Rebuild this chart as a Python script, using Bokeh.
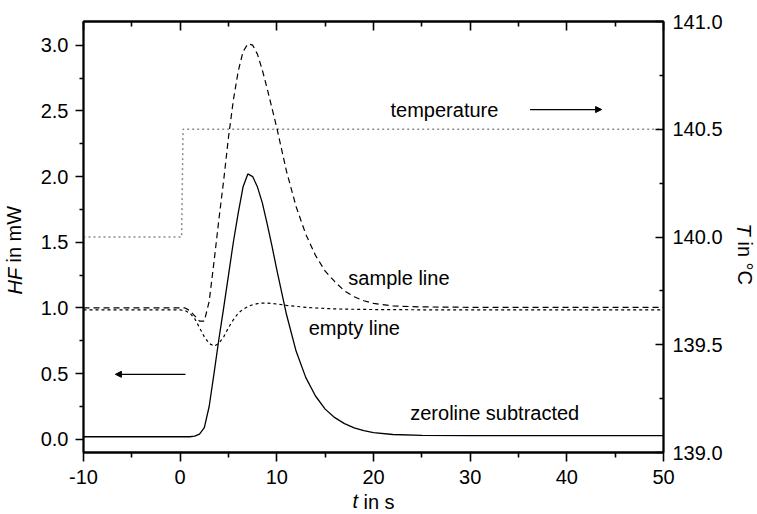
from bokeh.plotting import figure
from bokeh.models import (Range1d, LinearAxis, FixedTicker, NumeralTickFormatter,
                          Label, Arrow, NormalHead, Title)
from bokeh.embed import file_html
from bokeh.resources import INLINE

# ---- data ----
t = [-10, -5, 0, 0.5, 1, 1.5, 2, 2.5, 3, 3.5, 4, 4.5, 5, 5.5, 6, 6.5, 7, 7.5, 8, 8.5,
     9, 9.5, 10, 11, 12, 13, 14, 15, 16, 17, 18, 19, 20, 22, 25, 30, 40, 50]
hf_zero = [0.02, 0.02, 0.02, 0.02, 0.02, 0.025, 0.04, 0.09, 0.25, 0.5, 0.76, 1.0, 1.25,
           1.5, 1.72, 1.92, 2.02, 2.0, 1.92, 1.8, 1.64, 1.47, 1.29, 0.95, 0.67, 0.47,
           0.33, 0.23, 0.165, 0.12, 0.088, 0.066, 0.052, 0.037, 0.03, 0.028, 0.028, 0.028]
hf_sample = [1.0, 1.0, 1.0, 1.0, 0.98, 0.94, 0.9, 0.9, 1.05, 1.35, 1.67, 1.97, 2.3,
             2.58, 2.8, 2.95, 3.01, 3.0, 2.93, 2.81, 2.67, 2.52, 2.37, 2.04, 1.77, 1.56,
             1.4, 1.28, 1.2, 1.13, 1.085, 1.055, 1.035, 1.015, 1.008, 1.005, 1.005, 1.005]
hf_empty = [0.985, 0.985, 0.985, 0.98, 0.96, 0.92, 0.85, 0.78, 0.73, 0.71, 0.73, 0.78,
            0.85, 0.91, 0.96, 0.99, 1.01, 1.025, 1.033, 1.037, 1.037, 1.034, 1.03, 1.02,
            1.012, 1.005, 1.0, 0.996, 0.993, 0.991, 0.99, 0.989, 0.988, 0.987, 0.986,
            0.985, 0.985, 0.985]
t_temp = [-10, 0.15, 0.3, 50]
temp = [140.0, 140.0, 140.5, 140.5]

x_ticks = [-10, 0, 10, 20, 30, 40, 50]
x_minor = [-5, 5, 15, 25, 35, 45]
hf_ticks = [0.0, 0.5, 1.0, 1.5, 2.0, 2.5, 3.0]
hf_minor = [0.25, 0.75, 1.25, 1.75, 2.25, 2.75]
t_ticks = [139.0, 139.5, 140.0, 140.5, 141.0]
t_minor = [139.25, 139.75, 140.25, 140.75]

FONT = "Liberation Sans"
FS = "20px"

p = figure(frame_width=580, frame_height=431, min_border_left=83, min_border_right=92,
           min_border_top=21, min_border_bottom=60,
           x_range=Range1d(-10, 50), y_range=Range1d(-0.1, 3.18),
           output_backend="svg", toolbar_location=None,
           background_fill_color="white", border_fill_color="white")
p.extra_y_ranges = {"T": Range1d(139.0, 141.0)}
p.grid.visible = False
p.outline_line_color = "black"
p.outline_line_width = 1.8

def style(ax, ticks, minor, tin, tout, mtin, mtout):
    ax.ticker = FixedTicker(ticks=ticks, minor_ticks=minor)
    ax.axis_line_width = 1.8
    ax.major_tick_line_width = 1.6
    ax.minor_tick_line_width = 1.6
    ax.major_tick_in = tin
    ax.major_tick_out = tout
    ax.minor_tick_in = mtin
    ax.minor_tick_out = mtout
    ax.major_label_text_font = FONT
    ax.major_label_text_font_size = FS
    ax.major_label_text_color = "black"

xa = p.xaxis[0]
style(xa, x_ticks, x_minor, 0, 9, 0, 5)
xa.formatter = NumeralTickFormatter(format="0")
xa.major_label_standoff = 8

ya = p.yaxis[0]
style(ya, hf_ticks, hf_minor, 0, 8, 0, 4)
ya.formatter = NumeralTickFormatter(format="0.0")
ya.major_label_standoff = 7

ra = LinearAxis(y_range_name="T")
style(ra, t_ticks, t_minor, 8, 0, 4, 0)
ra.formatter = NumeralTickFormatter(format="0.0")
ra.major_label_standoff = 9
p.add_layout(ra, "right")

ta = LinearAxis()
style(ta, x_ticks, x_minor, 9, 0, 5, 0)
ta.major_label_text_font_size = "0px"
ta.major_label_text_alpha = 0
ta.major_label_standoff = 0
p.add_layout(ta, "above")

# ---- axis titles: a spacer, then two zero-width parts (italic symbol + unit) ----
def title_part(side, text, offset, style_, standoff):
    p.add_layout(Title(text=text, align="left", offset=offset, standoff=standoff,
                       vertical_align="middle", text_font=FONT, text_font_size=FS,
                       text_font_style=style_, text_color="black"), side)

def axis_title(side, spacer_standoff, sym, sym_off, unit, unit_off):
    title_part(side, " ", 0, "normal", spacer_standoff)
    title_part(side, sym, sym_off, "italic", -23)
    title_part(side, unit, unit_off, "normal", -23)

axis_title("left", -2, "HF", 158, "in mW", 190)
axis_title("right", -6, "T", 202, "in °C", 220)
axis_title("below", -10, "t", 269, "in s", 280)

# ---- curves ----
p.line(t_temp, temp, y_range_name="T", line_color="#8c8c8c", line_width=1.5,
       line_dash="2 3")
p.line(t, hf_empty, line_color="black", line_width=1.2, line_dash="3 3")
p.line(t, hf_sample, line_color="black", line_width=1.2, line_dash="6 4")
p.line(t, hf_zero, line_color="black", line_width=1.3)

# ---- annotations ----
def lab(x, y, text):
    p.add_layout(Label(x=x, y=y, text=text, text_font=FONT, text_font_size=FS,
                       text_color="black", text_align="left", text_baseline="middle"))

lab(21.76, 2.51, "temperature")
lab(17.4, 1.23, "sample line")
lab(13.3, 0.85, "empty line")
lab(23.8, 0.2, "zeroline subtracted")

p.add_layout(Arrow(end=NormalHead(size=6, fill_color="black", line_color="black"),
                   x_start=36.2, y_start=2.51, x_end=43.6, y_end=2.51,
                   line_width=1.2, line_color="black"))
p.add_layout(Arrow(end=NormalHead(size=6, fill_color="black", line_color="black"),
                   x_start=0.55, y_start=0.495, x_end=-6.7, y_end=0.495,
                   line_width=1.2, line_color="black"))

open("out.html", "w").write(file_html(p, INLINE))
